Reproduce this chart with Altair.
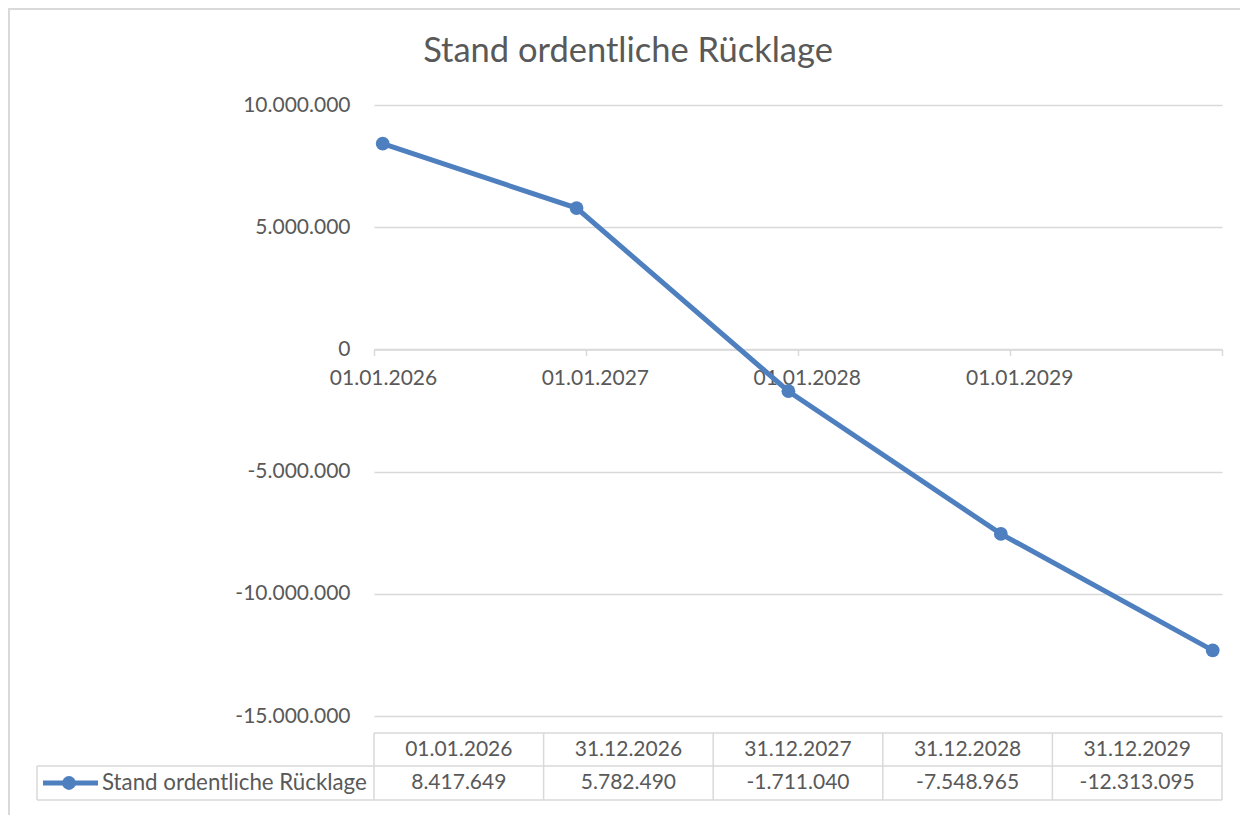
import altair as alt
import pandas as pd

# ---- data ----
dates = ["2026-01-01", "2026-12-31", "2027-12-31", "2028-12-31", "2029-12-31"]
date_labels = ["01.01.2026", "31.12.2026", "31.12.2027", "31.12.2028", "31.12.2029"]
values = [8417649, 5782490, -1711040, -7548965, -12313095]
series_name = "Stand ordentliche Rücklage"
title_text = "Stand ordentliche Rücklage"
y_ticks = [10000000, 5000000, 0, -5000000, -10000000, -15000000]
x_tick_years = [2026, 2027, 2028, 2029, 2030]

df = pd.DataFrame({"d": dates, "label": date_labels, "value": values})
one = pd.DataFrame({"k": [0]})

FONT = "Lato"
TXT = "#595959"
GRID = "#d9d9d9"
BLUE = "#4e7fbf"
W, H = 848, 611
FS = 21

de_fmt = "replace(replace(format({v}, ','), /,/g, '.'), '\u2212', '-')"

base = alt.Chart(df).transform_calculate(
    xm="utc(utcyear(toDate(datum.d)), utcmonth(toDate(datum.d)), 16)",
    vlabel=de_fmt.format(v="datum.value"),
)

x_scale = alt.Scale(
    type="utc",
    domain=[alt.DateTime(year=x_tick_years[0], month=1, date=1, utc=True),
            alt.DateTime(year=x_tick_years[-1], month=1, date=1, utc=True)],
)

x_main = alt.X(
    "xm:T",
    scale=x_scale,
    axis=alt.Axis(
        title=None,
        values=[alt.DateTime(year=yv, month=1, date=1, utc=True) for yv in x_tick_years],
        format="%d.%m.%Y",
        labelExpr=f"utcyear(datum.value) == {x_tick_years[-1]} ? '' : datum.label",
        offset=-(H * 15 / 25),
        grid=False,
        domainColor=GRID,
        domainWidth=1.5,
        tickColor=GRID,
        tickWidth=1.5,
        tickSize=6,
        labelFlush=False,
        labelOffset=9,
        labelPadding=12,
        labelFont=FONT,
        labelFontSize=FS,
        labelColor=TXT,
    ),
)

y_main = alt.Y(
    "value:Q",
    scale=alt.Scale(domain=[y_ticks[-1], y_ticks[0]], nice=False, zero=False),
    axis=alt.Axis(
        title=None,
        values=y_ticks,
        labelExpr=de_fmt.format(v="datum.value"),
        domain=False,
        ticks=False,
        grid=True,
        gridColor=GRID,
        gridWidth=1.5,
        labelPadding=24,
        labelFont=FONT,
        labelFontSize=FS,
        labelColor=TXT,
    ),
)

line = base.mark_line(color=BLUE, strokeWidth=5).encode(x=x_main, y=y_main)
pts = base.mark_circle(color=BLUE, size=190, opacity=1).encode(x=x_main, y=y_main)
main = alt.layer(line, pts)

# ---- data table ----
band_scale = alt.Scale(type="band", range=[0, W], paddingInner=0, paddingOuter=0)
x_band = alt.X("label:N", sort=date_labels, scale=band_scale, axis=None)
x_band0 = alt.X("label:N", sort=date_labels, bandPosition=0, scale=band_scale, axis=None)

ROW_TOP = 733 - 105
ROW_MID = 766 - 105
ROW_BOT = 800 - 105
LEFT = 37 - 374

hdr = base.mark_text(font=FONT, fontSize=FS, color=TXT, baseline="middle").encode(
    x=x_band, y=alt.value((ROW_TOP + ROW_MID) / 2), text="label:N")
vals = base.mark_text(font=FONT, fontSize=FS, color=TXT, baseline="middle").encode(
    x=x_band, y=alt.value((ROW_MID + ROW_BOT) / 2), text="vlabel:N")
vlines = base.mark_rule(color=GRID, strokeWidth=1.5).encode(
    x=x_band0, y=alt.value(ROW_TOP), y2=alt.value(ROW_BOT))
table = alt.layer(hdr, vals, vlines)

frame_rules = [
    alt.Chart(one).mark_rule(color=GRID, strokeWidth=1.5).encode(
        x=alt.value(W), y=alt.value(ROW_TOP), y2=alt.value(ROW_BOT)),
    alt.Chart(one).mark_rule(color=GRID, strokeWidth=1.5).encode(
        x=alt.value(0), x2=alt.value(W), y=alt.value(ROW_TOP)),
    alt.Chart(one).mark_rule(color=GRID, strokeWidth=1.5).encode(
        x=alt.value(LEFT), x2=alt.value(W), y=alt.value(ROW_MID)),
    alt.Chart(one).mark_rule(color=GRID, strokeWidth=1.5).encode(
        x=alt.value(LEFT), x2=alt.value(W), y=alt.value(ROW_BOT)),
    alt.Chart(one).mark_rule(color=GRID, strokeWidth=1.5).encode(
        x=alt.value(LEFT), y=alt.value(ROW_MID), y2=alt.value(ROW_BOT)),
    # outer chart border (top / left)
    alt.Chart(one).mark_rule(color=GRID, strokeWidth=2).encode(
        x=alt.value(-366), x2=alt.value(W + 30), y=alt.value(-96)),
    alt.Chart(one).mark_rule(color=GRID, strokeWidth=2).encode(
        x=alt.value(-365), y=alt.value(-97), y2=alt.value(H + 120)),
]

LEG_Y = (ROW_MID + ROW_BOT) / 2
leg_line = alt.Chart(one).mark_rule(color=BLUE, strokeWidth=5).encode(
    x=alt.value(43 - 374), x2=alt.value(98 - 374), y=alt.value(LEG_Y))
leg_pt = alt.Chart(one).mark_circle(color=BLUE, size=190, opacity=1).encode(
    x=alt.value(69 - 374), y=alt.value(LEG_Y))
leg_txt = alt.Chart(one).mark_text(font=FONT, fontSize=22.3, color=TXT, align="left",
                                   baseline="middle", text=series_name).encode(
    x=alt.value(102 - 374), y=alt.value(LEG_Y))

title = alt.Chart(one).mark_text(font=FONT, fontSize=34.5, color=TXT, align="center",
                                 baseline="alphabetic", text=title_text).encode(
    x=alt.value(628 - 374), y=alt.value(62 - 105))

chart = alt.layer(
    main, table, *frame_rules, leg_line, leg_pt, leg_txt, title
).resolve_scale(x="independent").properties(
    width=W, height=H,
    autosize=alt.AutoSizeParams(type="none"),
    padding={"left": 366, "top": 97, "right": 18, "bottom": 99},
    background="white",
).configure_view(stroke=None)

chart.save("out.html", embed_options={"renderer": "svg", "actions": False})
